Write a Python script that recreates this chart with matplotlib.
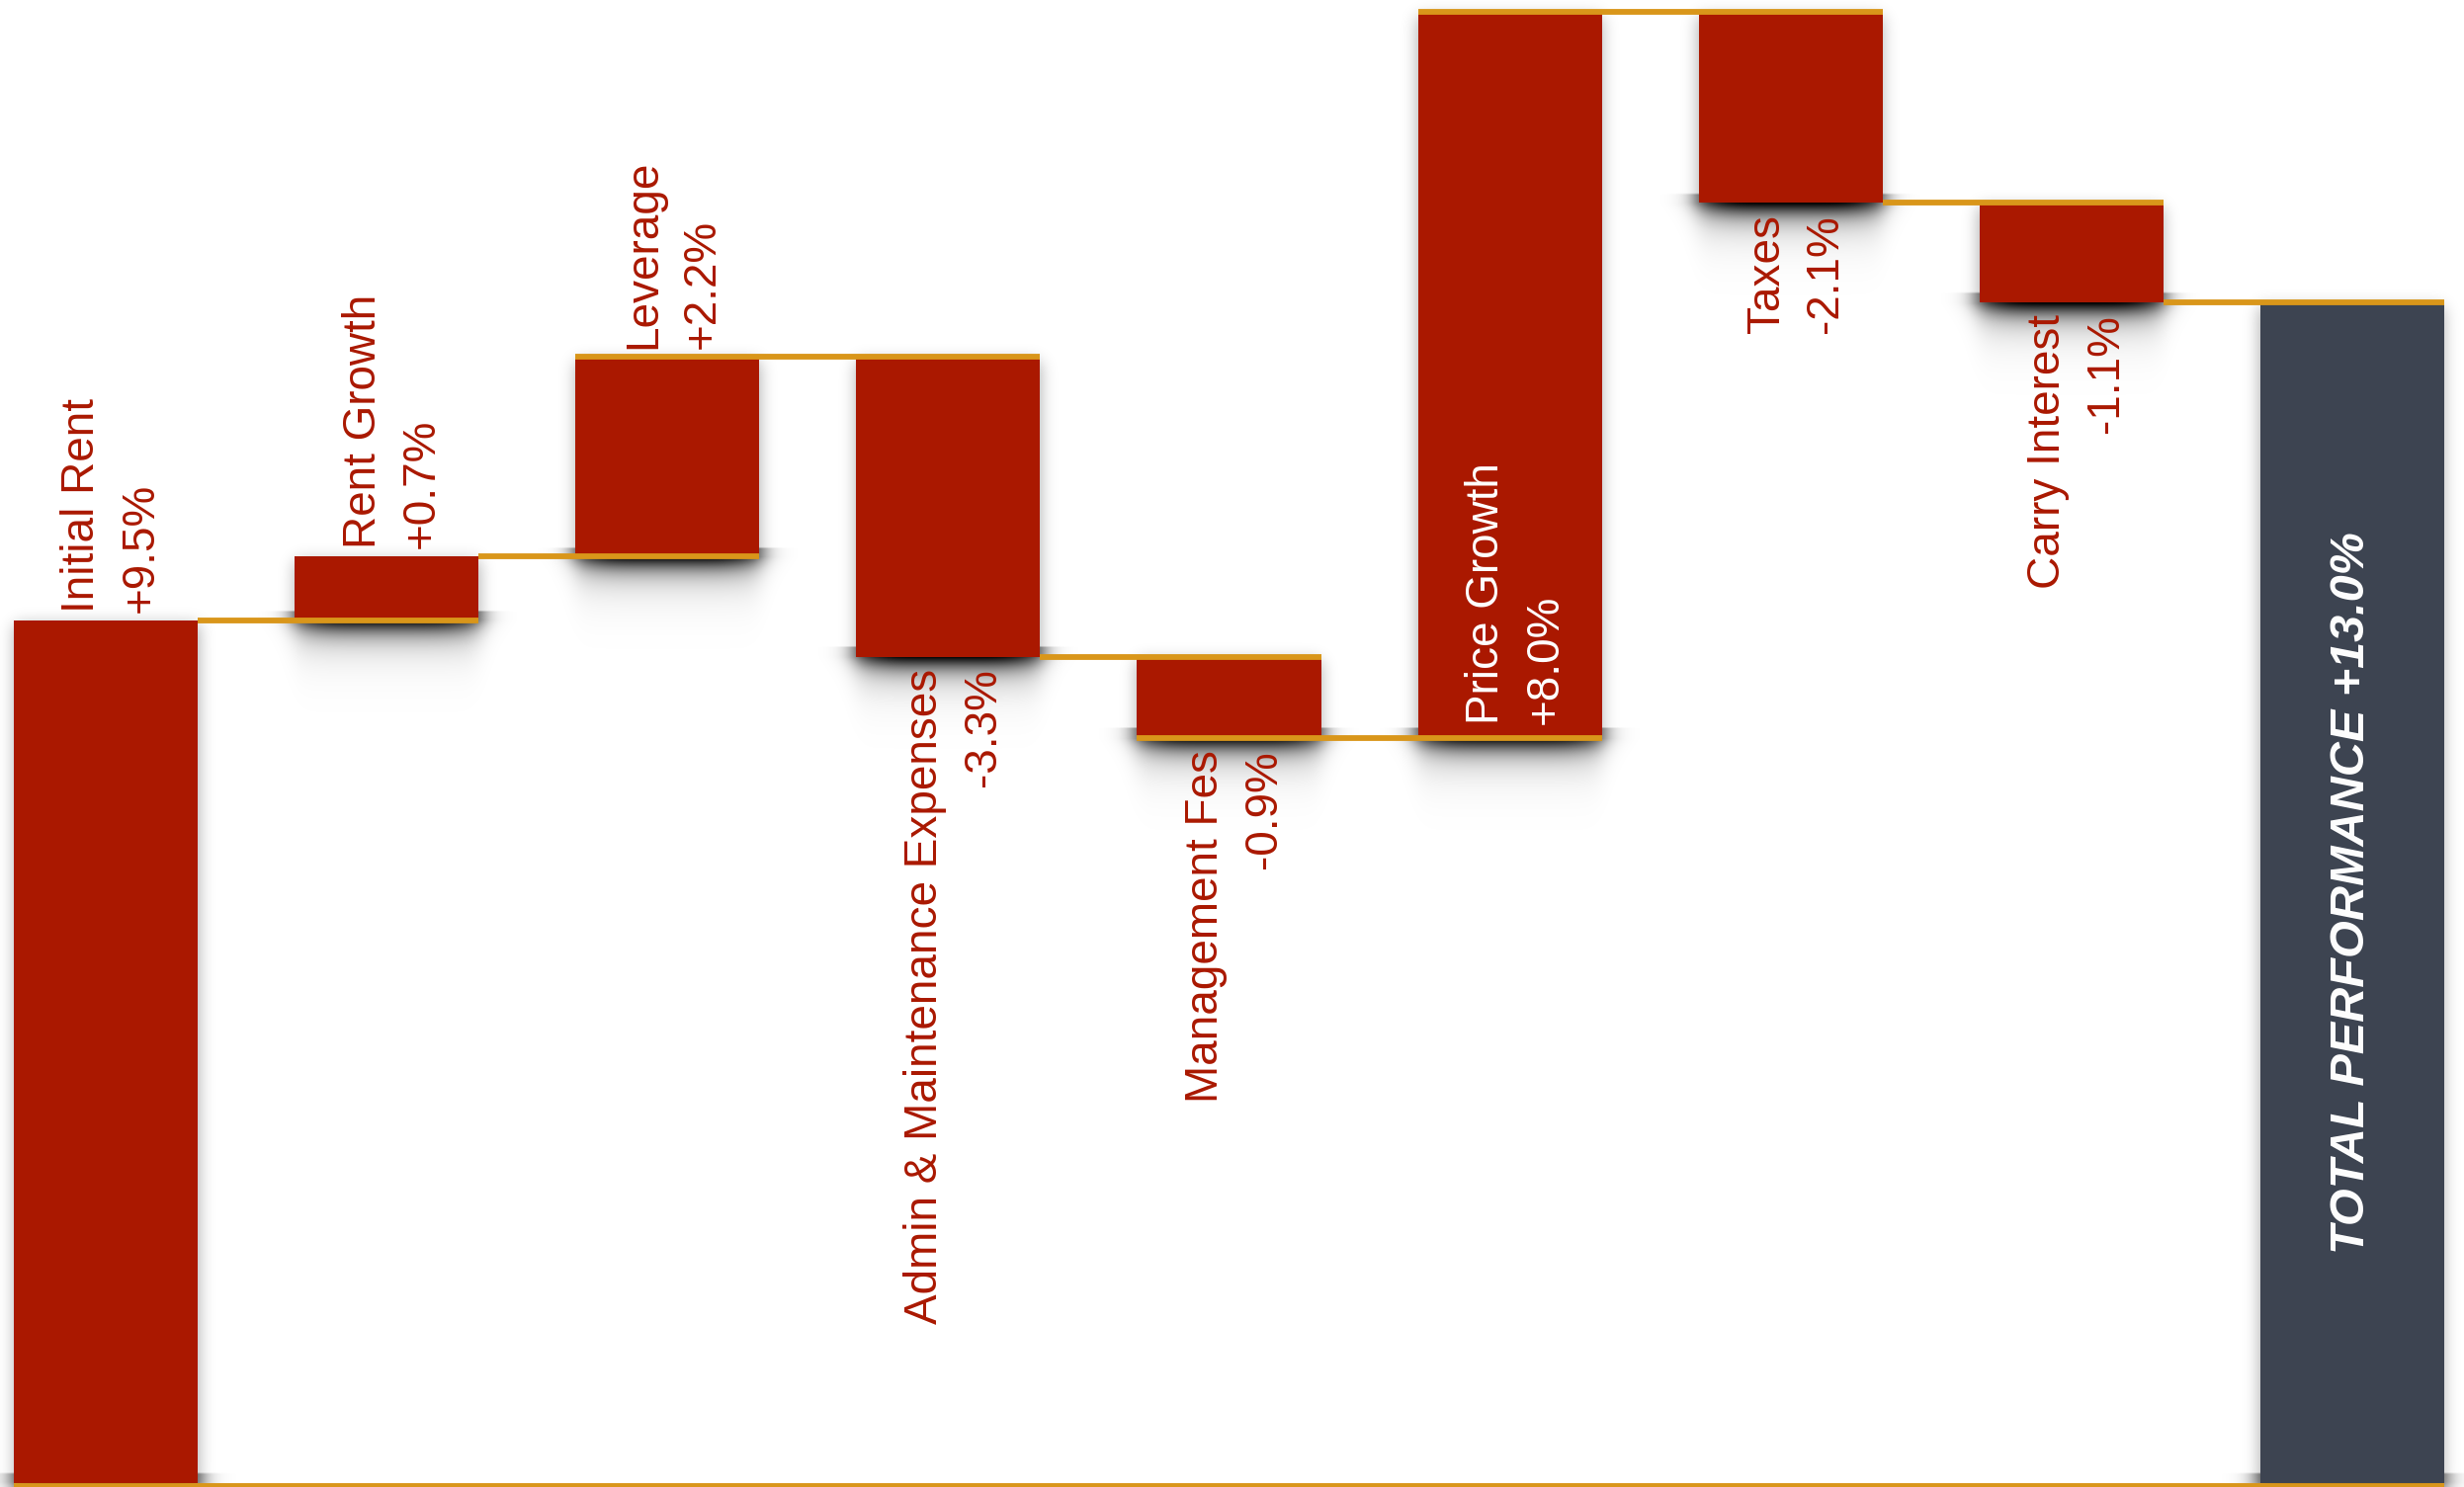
import math
import numpy as np
import matplotlib
matplotlib.use("Agg")
import matplotlib.pyplot as plt

plt.rcParams['font.family'] = ['Liberation Sans', 'DejaVu Sans']

# waterfall steps (percent contribution)
labels = ["Initial Rent", "Rent Growth", "Leverage", "Admin & Maintenance Expenses",
          "Management Fes", "Price Growth", "Taxes", "Carry Interest"]
changes = [9.5, 0.7, 2.2, -3.3, -0.9, 8.0, -2.1, -1.1]
total_label = "TOTAL PERFORMANCE"

red = "#AA1800"
orange = "#D9961A"
slate = "#3D4451"

ends = np.cumsum(changes)
starts = ends - np.array(changes)
total = ends[-1]
n = len(changes)
x = np.arange(n + 1)
w = 0.655

fig = plt.figure(figsize=(24.93, 15.05), dpi=100)
ax = fig.add_axes([0, 0, 1, 1])
ax.axis("off")
xlim = (-0.377, 8.398)
ylim = (-0.043, 16.33)
ax.set_xlim(xlim)
ax.set_ylim(ylim)

W, H = 2493, 1505
sx = W / (xlim[1] - xlim[0])   # pixels per data unit
sy = H / (ylim[1] - ylim[0])

bottoms = list(np.minimum(starts, ends)) + [0]
tops = list(np.maximum(starts, ends)) + [total]

# soft drop shadows
erf = np.vectorize(math.erf)
nx, ny = W // 2, H // 2
xs = np.linspace(xlim[0], xlim[1], nx)
ys = np.linspace(ylim[1], ylim[0], ny)


def soft_step(d, s):
    return 0.5 * (1 + erf(d / (s * math.sqrt(2))))


keep = np.ones((ny, nx))
for i in range(n + 1):
    l, r = x[i] - w / 2, x[i] + w / 2
    b, t = bottoms[i], tops[i]
    fx = soft_step((xs - l) * sx, 8) - soft_step((xs - r) * sx, 8)
    fy = soft_step((ys - b) * sy + 4, 8) - soft_step((ys - t) * sy + 4, 8)
    keep *= 1 - 0.33 * np.outer(fy, fx)
    # contact shadow under the bottom edge
    d = (b - ys) * sy
    dd = np.clip(d, 0, None)
    inside = np.where(d > -10, 1.0, 0.0)
    s = 0.1 * w * sx
    cx = soft_step((xs - l - 0.06 * w) * sx, s) - soft_step((xs - r + 0.06 * w) * sx, s)
    cy = np.where(d >= 0, np.exp(-dd / 10.0), inside)
    keep *= 1 - 1.0 * np.outer(cy, cx)
    s2 = 0.05 * w * sx
    cx2 = soft_step((xs - l) * sx, s2) - soft_step((xs - r) * sx, s2)
    cy2 = np.where(d >= 0, np.exp(-dd / 20.0), inside)
    keep *= 1 - 0.4 * np.outer(cy2, cx2)

shadow = np.zeros((ny, nx, 4))
shadow[..., 3] = 1 - keep
ax.imshow(shadow, extent=(xlim[0], xlim[1], ylim[0], ylim[1]), origin="upper",
          aspect="auto", interpolation="bilinear", zorder=1)

# bars
ax.bar(x[:n], np.abs(changes), bottom=bottoms[:n], width=w, color=red,
       linewidth=0, zorder=2)
ax.bar(x[n], total, bottom=0, width=w, color=slate, linewidth=0, zorder=2)

# connectors
for i in range(n):
    turn = i + 1 < n and np.sign(changes[i]) != np.sign(changes[i + 1])
    x0 = x[i] - w / 2 if turn else x[i] + w / 2
    ax.hlines(ends[i], x0, x[i + 1] + w / 2, color=orange, linewidth=4.2,
              capstyle="butt", zorder=3)
ax.hlines(-3 / sy, x[0] - w / 2, x[n] + w / 2, color=orange, linewidth=4.2,
          capstyle="butt", zorder=3)

# labels
for i in range(n):
    txt = f"{labels[i]}\n{changes[i]:+.1f}%"
    kw = dict(rotation=90, ha="center", fontsize=33, linespacing=1.45, zorder=4)
    tx = x[i] + 6 / sx
    if changes[i] > 0 and ylim[1] - tops[i] < 2:
        ax.text(tx, bottoms[i] + 14 / sy, txt, va="bottom", multialignment="left",
                color="white", **kw)
    elif changes[i] > 0:
        ax.text(tx, tops[i] + 8 / sy, txt, va="bottom", multialignment="left",
                color=red, **kw)
    else:
        ax.text(tx, bottoms[i] - 12 / sy, txt, va="top", multialignment="right",
                color=red, **kw)

ax.text(x[n], total / 2, f"{total_label} {total:+.1f}%", rotation=90, ha="center",
        va="center", color="white", fontsize=35, fontweight="bold", fontstyle="italic",
        zorder=4)

fig.savefig("out.png", dpi=100)
